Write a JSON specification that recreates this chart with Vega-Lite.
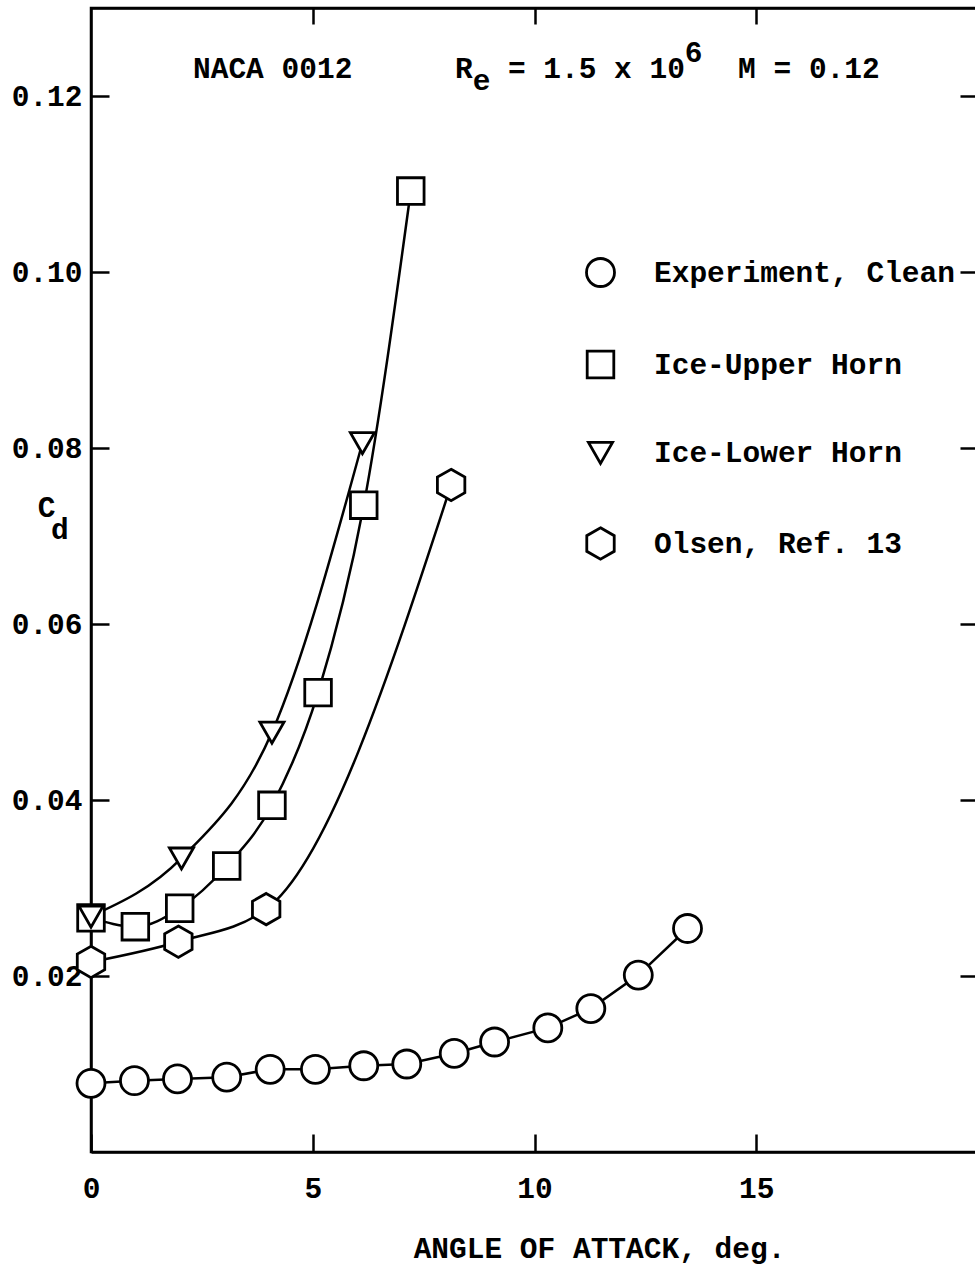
{
  "$schema": "https://vega.github.io/schema/vega-lite/v6.json",
  "autosize": "none",
  "width": 887,
  "height": 1144,
  "padding": {"left": 91, "top": 8, "right": 0, "bottom": 114},
  "background": "white",
  "config": {
    "view": {"stroke": "black", "strokeWidth": 2.5},
    "font": "Liberation Mono",
    "axis": {
      "grid": false, "domainColor": "black", "domainWidth": 2.5, "tickColor": "black", "tickWidth": 2.5,
      "labelFont": "Liberation Mono", "labelFontWeight": "bold", "labelFontSize": 29.5, "labelColor": "black",
      "titleFont": "Liberation Mono", "titleFontWeight": "bold", "titleFontSize": 29.5, "titleColor": "black",
      "zindex": 1
    }
  },
  "datasets": {
    "drag": [
      {"series": "Experiment, Clean", "alpha": 0, "cd": 0.0078},
      {"series": "Experiment, Clean", "alpha": 0.98, "cd": 0.0081},
      {"series": "Experiment, Clean", "alpha": 1.95, "cd": 0.0083},
      {"series": "Experiment, Clean", "alpha": 3.06, "cd": 0.0085},
      {"series": "Experiment, Clean", "alpha": 4.04, "cd": 0.0094},
      {"series": "Experiment, Clean", "alpha": 5.06, "cd": 0.0094},
      {"series": "Experiment, Clean", "alpha": 6.15, "cd": 0.0098},
      {"series": "Experiment, Clean", "alpha": 7.12, "cd": 0.0100},
      {"series": "Experiment, Clean", "alpha": 8.19, "cd": 0.0112},
      {"series": "Experiment, Clean", "alpha": 9.1, "cd": 0.0125},
      {"series": "Experiment, Clean", "alpha": 10.3, "cd": 0.0141},
      {"series": "Experiment, Clean", "alpha": 11.27, "cd": 0.0163},
      {"series": "Experiment, Clean", "alpha": 12.34, "cd": 0.0201},
      {"series": "Experiment, Clean", "alpha": 13.45, "cd": 0.0254},
      {"series": "Ice-Upper Horn", "alpha": 0, "cd": 0.0266},
      {"series": "Ice-Upper Horn", "alpha": 1.0, "cd": 0.0256},
      {"series": "Ice-Upper Horn", "alpha": 2.0, "cd": 0.0277},
      {"series": "Ice-Upper Horn", "alpha": 3.06, "cd": 0.0325},
      {"series": "Ice-Upper Horn", "alpha": 4.08, "cd": 0.0394},
      {"series": "Ice-Upper Horn", "alpha": 5.12, "cd": 0.0522},
      {"series": "Ice-Upper Horn", "alpha": 6.15, "cd": 0.0735},
      {"series": "Ice-Upper Horn", "alpha": 7.21, "cd": 0.1092},
      {"series": "Ice-Lower Horn", "alpha": 0, "cd": 0.0268},
      {"series": "Ice-Lower Horn", "alpha": 2.04, "cd": 0.0334},
      {"series": "Ice-Lower Horn", "alpha": 4.08, "cd": 0.0477},
      {"series": "Ice-Lower Horn", "alpha": 6.12, "cd": 0.0806},
      {"series": "Olsen, Ref. 13", "alpha": 0, "cd": 0.0216},
      {"series": "Olsen, Ref. 13", "alpha": 1.97, "cd": 0.0239},
      {"series": "Olsen, Ref. 13", "alpha": 3.95, "cd": 0.0276},
      {"series": "Olsen, Ref. 13", "alpha": 8.12, "cd": 0.0758}
    ],
    "notes": [
      {"t": "NACA 0012", "alpha": 2.3, "cd": 0.12205},
      {"t": "R", "alpha": 8.21, "cd": 0.12205},
      {"t": "e", "alpha": 8.61, "cd": 0.12068},
      {"t": "= 1.5 x 10", "alpha": 9.4, "cd": 0.12205},
      {"t": "6", "alpha": 13.39, "cd": 0.12386},
      {"t": "M = 0.12", "alpha": 14.59, "cd": 0.12205},
      {"t": "C", "alpha": -1.2, "cd": 0.0722},
      {"t": "d", "alpha": -0.9, "cd": 0.0697}
    ]
  },
  "resolve": {"axis": {"x": "independent", "y": "independent"}},
  "layer": [
    {
      "data": {"name": "drag"},
      "transform": [{"filter": "datum.series === 'Experiment, Clean'"}],
      "mark": {"type": "line", "color": "black", "strokeWidth": 2.5, "interpolate": "linear"},
      "encoding": {
        "x": {"field": "alpha", "type": "quantitative", "scale": {"domain": [0, 20], "nice": false, "zero": false},
          "axis": {"orient": "bottom", "values": [0, 5, 10, 15], "tickSize": -18, "labelPadding": 40, "labelFlush": false,
            "title": "ANGLE OF ATTACK, deg.", "titleAlign": "center", "titleX": 508, "titleY": 105, "titleBaseline": "alphabetic"}},
        "y": {"field": "cd", "type": "quantitative", "scale": {"domain": [0, 0.13], "nice": false, "zero": false},
          "axis": {"orient": "left", "values": [0.02, 0.04, 0.06, 0.08, 0.1, 0.12], "format": ".2f", "tickSize": -18, "labelPadding": 27, "title": null}},
        "detail": {"field": "series"}
      }
    },
    {
      "data": {"name": "drag"},
      "transform": [{"filter": "datum.series !== 'Experiment, Clean'"}],
      "mark": {"type": "line", "color": "black", "strokeWidth": 2.5, "interpolate": "monotone"},
      "encoding": {
        "x": {"field": "alpha", "type": "quantitative", "axis": null},
        "y": {"field": "cd", "type": "quantitative", "axis": null},
        "detail": {"field": "series"}
      }
    },
    {
      "data": {"name": "drag"},
      "mark": {"type": "point", "filled": false, "color": "black", "fill": "white", "strokeWidth": 2.8, "size": 784, "opacity": 1},
      "encoding": {
        "x": {"field": "alpha", "type": "quantitative", "axis": null},
        "y": {"field": "cd", "type": "quantitative", "axis": null},
        "shape": {"field": "series", "type": "nominal",
          "scale": {"domain": ["Experiment, Clean", "Ice-Upper Horn", "Ice-Lower Horn", "Olsen, Ref. 13"],
            "range": ["circle", "M-0.95,-0.95L0.95,-0.95L0.95,0.95L-0.95,0.95Z", "M-0.86,-0.72L0.86,-0.72L0,0.78Z", "M0,-1.12L0.98,-0.56L0.98,0.56L0,1.12L-0.98,0.56L-0.98,-0.56Z"]},
          "legend": {"orient": "none", "legendX": 494, "legendY": 249, "title": null, "padding": 0,
            "symbolSize": 784, "symbolStrokeWidth": 2.8,
            "labelFont": "Liberation Mono", "labelFontWeight": "bold", "labelFontSize": 29.5, "labelColor": "black", "labelLimit": 0,
            "labelOffset": 38, "rowPadding": 52}}
      }
    },
    {
      "data": {"name": "notes"},
      "mark": {"type": "text", "align": "left", "baseline": "alphabetic", "font": "Liberation Mono", "fontWeight": "bold", "fontSize": 29.5, "color": "black"},
      "encoding": {
        "x": {"field": "alpha", "type": "quantitative",
          "axis": {"orient": "top", "values": [5, 10, 15], "tickSize": -16, "labels": false, "title": null}},
        "y": {"field": "cd", "type": "quantitative",
          "axis": {"orient": "right", "values": [0.02, 0.04, 0.06, 0.08, 0.1, 0.12], "tickSize": -18, "labels": false, "title": null}},
        "text": {"field": "t"}
      }
    }
  ]
}
